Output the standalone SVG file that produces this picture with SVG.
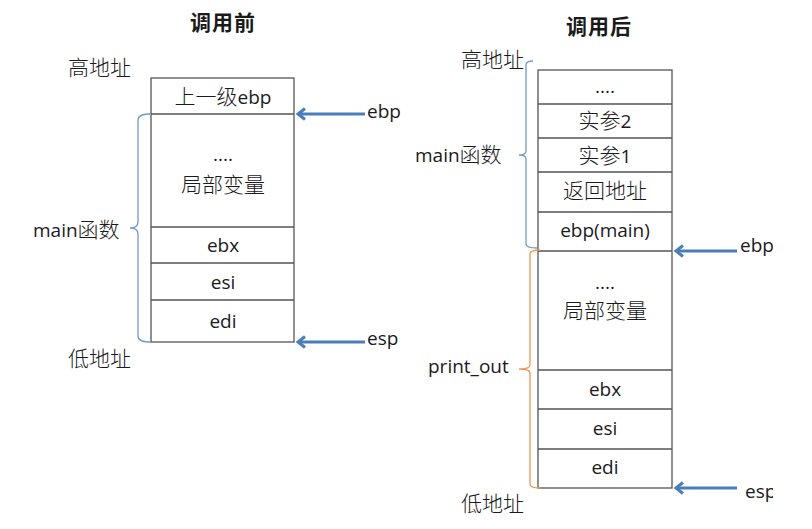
<svg xmlns="http://www.w3.org/2000/svg" width="812" height="529" viewBox="0 0 812 529">
<style>
text{font-family:"Open Sans","Noto Sans CJK SC",sans-serif;font-size:19px;fill:#1a1a1a}
.k{font-family:"Noto Sans CJK SC",sans-serif;font-size:21px;font-weight:300}
.c{text-anchor:middle}
.t{font-weight:bold;font-family:"Noto Sans CJK SC",sans-serif;font-size:21px}
.box{fill:#fff;stroke:#555;stroke-width:1.3}
.div{stroke:#555;stroke-width:1.3}
.arr{stroke:#4a7ebb;stroke-width:3;fill:none;marker-end:url(#ah)}
.bb{fill:none;stroke:#6f9bd3;stroke-width:1.3}
.ob{fill:none;stroke:#f0954a;stroke-width:1.3}
</style>
<defs>
<marker id="ah" markerWidth="14" markerHeight="14" refX="10" refY="7" orient="auto" markerUnits="userSpaceOnUse">
<path d="M3,1.5 L10,7 L3,12.5" fill="none" stroke="#4a7ebb" stroke-width="3"/>
</marker>
<clipPath id="clip"><rect x="0" y="0" width="773" height="529"/></clipPath>
</defs>
<rect width="812" height="529" fill="#fff"/>

<g id="left">
<text class="t c" x="223" y="30" letter-spacing="1">调用前</text>
<text class="k" x="68" y="75">高地址</text>
<text class="k" x="68" y="366">低地址</text>
<text x="33" y="237">main<tspan class="k">函数</tspan></text>
<g id="left-stack">
<rect class="box" x="151" y="78" width="143" height="264"/>
<line class="div" x1="151" y1="114" x2="294" y2="114"/>
<line class="div" x1="151" y1="227" x2="294" y2="227"/>
<line class="div" x1="151" y1="263" x2="294" y2="263"/>
<line class="div" x1="151" y1="300" x2="294" y2="300"/>
<text class="c" x="223" y="104"><tspan class="k">上一级</tspan>ebp</text>
<text class="c" x="223" y="161">....</text>
<text class="c k" x="223" y="192">局部变量</text>
<text class="c" x="223" y="252">ebx</text>
<text class="c" x="223" y="289">esi</text>
<text class="c" x="223" y="328">edi</text>
</g>
<text x="367" y="118">ebp</text>
<text x="367" y="345">esp</text>
</g>

<g id="right">
<text class="t c" x="599" y="34" letter-spacing="1">调用后</text>
<text class="k" x="461" y="67">高地址</text>
<text class="k" x="461" y="511">低地址</text>
<text x="415" y="162">main<tspan class="k">函数</tspan></text>
<text x="428" y="373">print_out</text>
<g id="right-stack">
<rect class="box" x="538" y="70" width="134" height="418"/>
<line class="div" x1="538" y1="104" x2="672" y2="104"/>
<line class="div" x1="538" y1="138" x2="672" y2="138"/>
<line class="div" x1="538" y1="172" x2="672" y2="172"/>
<line class="div" x1="538" y1="212" x2="672" y2="212"/>
<line class="div" x1="538" y1="251" x2="672" y2="251"/>
<line class="div" x1="538" y1="370" x2="672" y2="370"/>
<line class="div" x1="538" y1="409" x2="672" y2="409"/>
<line class="div" x1="538" y1="449" x2="672" y2="449"/>
<text class="c" x="605" y="93">....</text>
<text class="c" x="605" y="128"><tspan class="k">实参</tspan>2</text>
<text class="c" x="605" y="163"><tspan class="k">实参</tspan>1</text>
<text class="c k" x="605" y="198">返回地址</text>
<text class="c" x="605" y="237">ebp(main)</text>
<text class="c" x="605" y="289">....</text>
<text class="c k" x="605" y="318">局部变量</text>
<text class="c" x="605" y="396">ebx</text>
<text class="c" x="605" y="435">esi</text>
<text class="c" x="605" y="474">edi</text>
</g>
<g clip-path="url(#clip)">
<text x="740" y="252">ebp</text>
<text x="745" y="498">esp</text>
</g>
</g>

<g id="connectors">
<path class="bb" d="M151,114 C143,114 138,115 138,120 L138,222 C138,226 135,228 130,228 C135,228 138,230 138,234 L138,336 C138,341 143,342 151,342"/>
<path class="bb" d="M533,61 C529,61 526,62 526,65 L526,151 C526,154 523,155 519,155 C523,155 526,156 526,159 L526,244 C526,247 530,248 537,248"/>
<path class="ob" d="M540,250 C534,250 530,251 530,254 L530,365 C530,368 527,369 519,369 C527,369 530,370 530,373 L530,484 C530,487 534,488 540,488"/>
<line class="arr" x1="365" y1="114" x2="298" y2="114"/>
<line class="arr" x1="365" y1="342" x2="298" y2="342"/>
<line class="arr" x1="737" y1="251" x2="676" y2="251"/>
<line class="arr" x1="737" y1="488" x2="676" y2="488"/>
</g>
</svg>
